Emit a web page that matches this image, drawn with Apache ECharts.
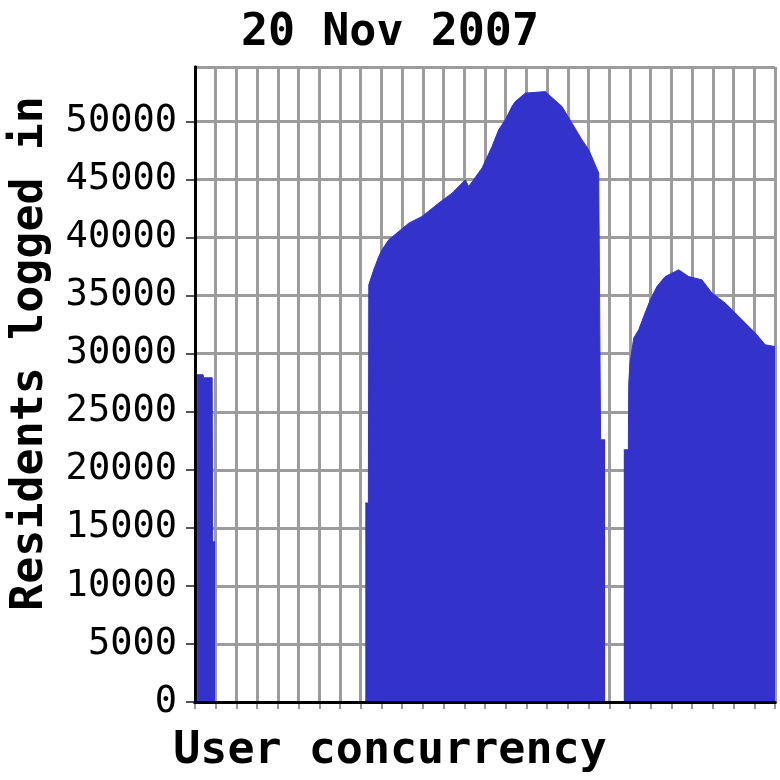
<!DOCTYPE html>
<html>
<head>
<meta charset="utf-8">
<title>User concurrency</title>
<script src="https://cdn.jsdelivr.net/npm/echarts@6/dist/echarts.min.js"></script>
<style>
  html, body { margin: 0; padding: 0; background: #fff; }
  #chart { width: 780px; height: 780px; }
</style>
</head>
<body>
<div id="chart"></div>
<script>
// x position in grid units (28 columns across the plot), null = no data
var times = [
  0.10, 0.39, 0.42, 0.83, 0.85, 0.97, 1.50,
  8.22, 8.37, 8.39, 8.63, 8.87, 9.03, 9.35, 10.32, 10.96, 11.76, 12.41,
  13.05, 13.21, 13.86, 14.34, 14.66, 14.98, 15.30, 15.46, 15.95, 16.91,
  17.72, 18.20, 18.68, 19.01, 19.49, 19.56, 19.58, 19.80, 20.20,
  20.70, 20.92, 20.94, 21.00, 21.18, 21.42, 21.66, 21.98, 22.30, 22.70,
  23.35, 23.83, 24.47, 24.96, 25.60, 26.41, 27.05, 27.53, 28.00
];
var residents = [
  28190, 28190, 27930, 27930, 13800, 13800, null,
  17140, 17140, 35940, 37230, 38370, 38950, 39810, 41250, 41820, 42970, 43830,
  44980, 44400, 46000, 47850, 49290, 50150, 51290, 51720, 52450, 52580,
  51290, 49860, 48430, 47570, 45560, 45410, 22580, 22580, null,
  21730, 21730, 27500, 29200, 31350, 32060, 33200, 34650, 35790, 36650,
  37230, 36650, 36370, 35220, 34360, 32920, 31780, 30770, 30620
];
var yTicks = [0, 5000, 10000, 15000, 20000, 25000, 30000, 35000, 40000, 45000, 50000];

var chart = echarts.init(document.getElementById('chart'));

var points = [];
for (var i = 0; i < times.length; i++) {
  points.push([times[i], residents[i] == null ? '-' : residents[i]]);
}

var fontMono = 'DejaVu Sans Mono';
var gridColor = '#9c9c9c';

var option = {
  backgroundColor: '#fff',
  animation: false,
  title: {
    text: '20 Nov 2007',
    left: 'center',
    top: 6,
    textStyle: { fontFamily: fontMono, fontWeight: 'bold', fontSize: 45, color: '#000' }
  },
  grid: { left: 193, right: 5, top: 67, bottom: 78, containLabel: false },
  xAxis: [
    {
      type: 'value',
      min: 0,
      max: 28,
      interval: 1,
      name: 'User concurrency',
      nameLocation: 'middle',
      nameGap: 27,
      nameTextStyle: {
        fontFamily: fontMono, fontWeight: 'bold', fontSize: 45, color: '#000',
        padding: [0, 190, 0, 0]
      },
      axisLine: { show: true, lineStyle: { color: '#000', width: 3 } },
      axisTick: { show: true, length: 7, lineStyle: { color: '#999', width: 2 } },
      axisLabel: { show: false },
      splitLine: { show: true, lineStyle: { color: gridColor, width: 3 } }
    },
    { // top border
      type: 'value', position: 'top', min: 0, max: 28, z: 5,
      axisLine: { show: true, lineStyle: { color: '#000', width: 3 } },
      axisTick: { show: false }, axisLabel: { show: false }, splitLine: { show: false }
    },
    { // bottom line drawn over the fill
      type: 'value', position: 'bottom', min: 0, max: 28, z: 5,
      axisLine: { show: true, lineStyle: { color: '#000', width: 3 } },
      axisTick: { show: false }, axisLabel: { show: false }, splitLine: { show: false }
    }
  ],
  yAxis: [
    {
      type: 'value',
      min: 0,
      max: 54700,
      interval: 5000,
      name: 'Residents logged in',
      nameLocation: 'middle',
      nameRotate: 90,
      nameGap: 142,
      nameTextStyle: {
        fontFamily: fontMono, fontWeight: 'bold', fontSize: 45, color: '#000',
        padding: [0, 0, 0, 62]
      },
      axisLine: { show: true, lineStyle: { color: '#000', width: 3 } },
      axisTick: { show: true, length: 9, lineStyle: { color: '#555', width: 2 } },
      axisLabel: {
        margin: 18,
        showMaxLabel: false,
        fontFamily: fontMono,
        fontSize: 37,
        color: '#000',
        formatter: function (v) { return yTicks.indexOf(v) >= 0 ? String(v) : ''; }
      },
      splitLine: { show: true, lineStyle: { color: gridColor, width: 3 } }
    },
    { // right border
      type: 'value', position: 'right', min: 0, max: 54700, z: 5,
      axisLine: { show: true, lineStyle: { color: '#000', width: 3 } },
      axisTick: { show: false }, axisLabel: { show: false }, splitLine: { show: false }
    }
  ],
  series: [
    {
      type: 'line',
      xAxisIndex: 0,
      yAxisIndex: 0,
      data: points,
      showSymbol: false,
      connectNulls: false,
      lineStyle: { color: '#3333cc', width: 1 },
      areaStyle: { color: '#3333cc', opacity: 1 },
      silent: true
    }
  ]
};

chart.setOption(option);
</script>
</body>
</html>
